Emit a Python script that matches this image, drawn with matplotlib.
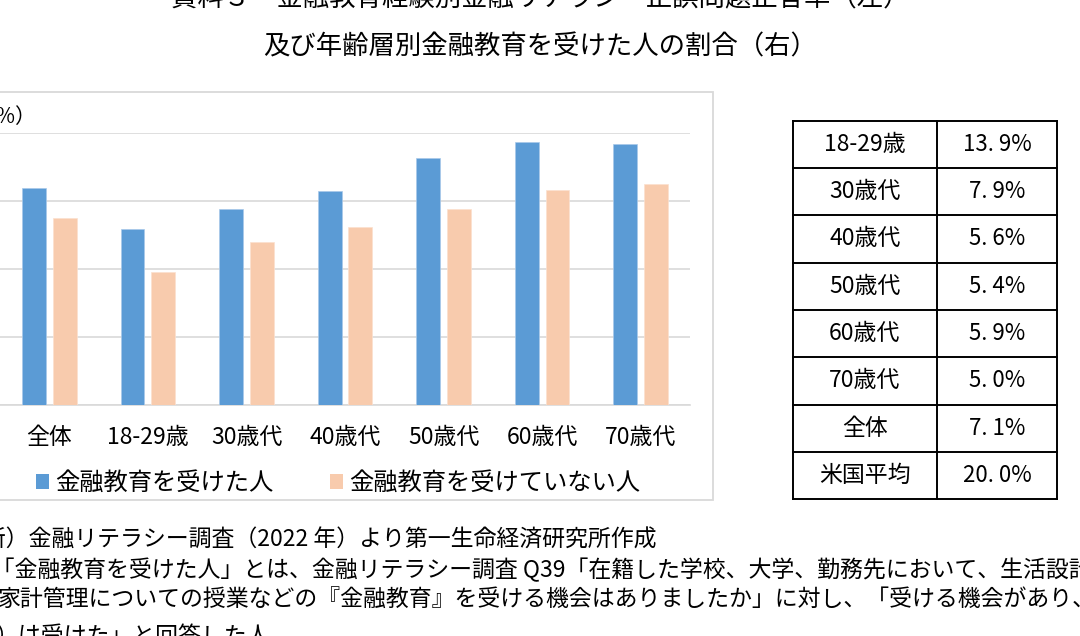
import matplotlib
matplotlib.use("Agg")
import matplotlib.pyplot as plt
from matplotlib.patches import Rectangle, Patch
from matplotlib.lines import Line2D
import numpy as np

plt.rcParams['font.family'] = ['Noto Sans CJK JP', 'DejaVu Sans']

# ---- data ----
categories = ["全体", "18-29歳", "30歳代", "40歳代", "50歳代", "60歳代", "70歳代"]
educated = [63.7, 51.7, 57.5, 62.8, 72.5, 77.2, 76.6]
not_educated = [54.8, 39.2, 47.8, 52.3, 57.6, 63.2, 64.8]
series_names = ["金融教育を受けた人", "金融教育を受けていない人"]
y_ticks = [0, 20, 40, 60, 80]

table_labels = ["18-29歳", "30歳代", "40歳代", "50歳代", "60歳代", "70歳代", "全体", "米国平均"]
table_values = [13.9, 7.9, 5.6, 5.4, 5.9, 5.0, 7.1, 20.0]

title_lines = ["資料３　金融教育経験別金融リテラシー正誤問題正答率（左）",
               "及び年齢層別金融教育を受けた人の割合（右）"]
notes = ["（出所）金融リテラシー調査（2022 年）より第一生命経済研究所作成",
         "（注）「金融教育を受けた人」とは、金融リテラシー調査 Q39「在籍した学校、大学、勤務先において、生活設計や",
         "家計管理についての授業などの『金融教育』を受ける機会はありましたか」に対し、「受ける機会があり、自分は",
         "）は受けた」と回答した人"]

W, H = 1080, 636
def fx(px): return px / W
def fy(py): return 1 - py / H

fig = plt.figure(figsize=(W / 100, H / 100), dpi=100)

# chart border
fig.patches.append(Rectangle((fx(-10), fy(500)), fx(713) - fx(-10), fy(91.7) - fy(500),
                             transform=fig.transFigure, fill=False, edgecolor='#d9d9d9',
                             linewidth=1.3, zorder=0))

ax = fig.add_axes([fx(0), fy(405), fx(690) - fx(0), fy(132.7) - fy(405)])
x = np.arange(len(categories))
bw = 0.243
off = 0.156
c_blue = '#5B9BD5'
c_orange = '#F8CBAD'
ax.bar(x - off, educated, bw, color=c_blue, edgecolor='#a9c9ea', linewidth=0.5, zorder=3)
ax.bar(x + off, not_educated, bw, color=c_orange, edgecolor='#fbe0cf', linewidth=0.5, zorder=3)
ax.set_xlim(-0.5, len(categories) - 0.5)
ax.set_ylim(y_ticks[0], y_ticks[-1])
ax.set_yticks(y_ticks)
ax.set_yticklabels([])  # value labels lie beyond the cropped left edge
ax.yaxis.grid(True, color='#d9d9d9', linewidth=1.2, zorder=0)
ax.set_axisbelow(True)
for s in ['top', 'right', 'left']:
    ax.spines[s].set_visible(False)
ax.spines['bottom'].set_color('#d9d9d9')
ax.spines['bottom'].set_linewidth(1.2)
ax.set_xticks(x)
ax.set_xticklabels(categories, fontsize=16.5)
ax.tick_params(axis='x', length=0, pad=15)
ax.tick_params(axis='y', length=0)

fig.text(fx(36), fy(117), "（%）", ha='right', va='center', fontsize=15)

# legend
handles = [Patch(facecolor=c_blue, edgecolor='none'), Patch(facecolor=c_orange, edgecolor='none')]
fig.legend(handles, series_names, loc='center left', bbox_to_anchor=(fx(36), fy(483)),
           ncol=2, frameon=False, fontsize=17.5, handlelength=0.55, handleheight=0.55,
           handletextpad=0.25, columnspacing=2.3, borderpad=0, borderaxespad=0)

# titles
fig.text(0.5, fy(-1), title_lines[0], ha='center', va='center', fontsize=19)
fig.text(0.5, fy(47), title_lines[1], ha='center', va='center', fontsize=19)

# table
tx0, tx1, tx2 = 792.7, 936.7, 1057.3
ty0 = 120.7
rh = 47.3
n = len(table_labels)
lw = 1.4
for i in range(n + 1):
    y = ty0 + rh * i
    fig.add_artist(Line2D([fx(tx0), fx(tx2)], [fy(y), fy(y)], transform=fig.transFigure,
                          color='black', linewidth=lw))
for xx in (tx0, tx1, tx2):
    fig.add_artist(Line2D([fx(xx), fx(xx)], [fy(ty0), fy(ty0 + rh * n)], transform=fig.transFigure,
                          color='black', linewidth=lw))
for i, (lab, val) in enumerate(zip(table_labels, table_values)):
    yc = ty0 + rh * (i + 0.5)
    fig.text(fx((tx0 + tx1) / 2), fy(yc), lab, ha='center', va='center', fontsize=16.5)
    fig.text(fx((tx1 + tx2) / 2), fy(yc), f"{val:.1f}%".replace('.', '. '),
             ha='center', va='center', fontsize=16)

# notes
note_pos = [(-63, 540), (-77, 570), (-2, 600), (-4, 636)]
for (px, py), t in zip(note_pos, notes):
    fig.text(fx(px), fy(py), t, ha='left', va='center', fontsize=16.5)

fig.savefig("out.png", dpi=100)
